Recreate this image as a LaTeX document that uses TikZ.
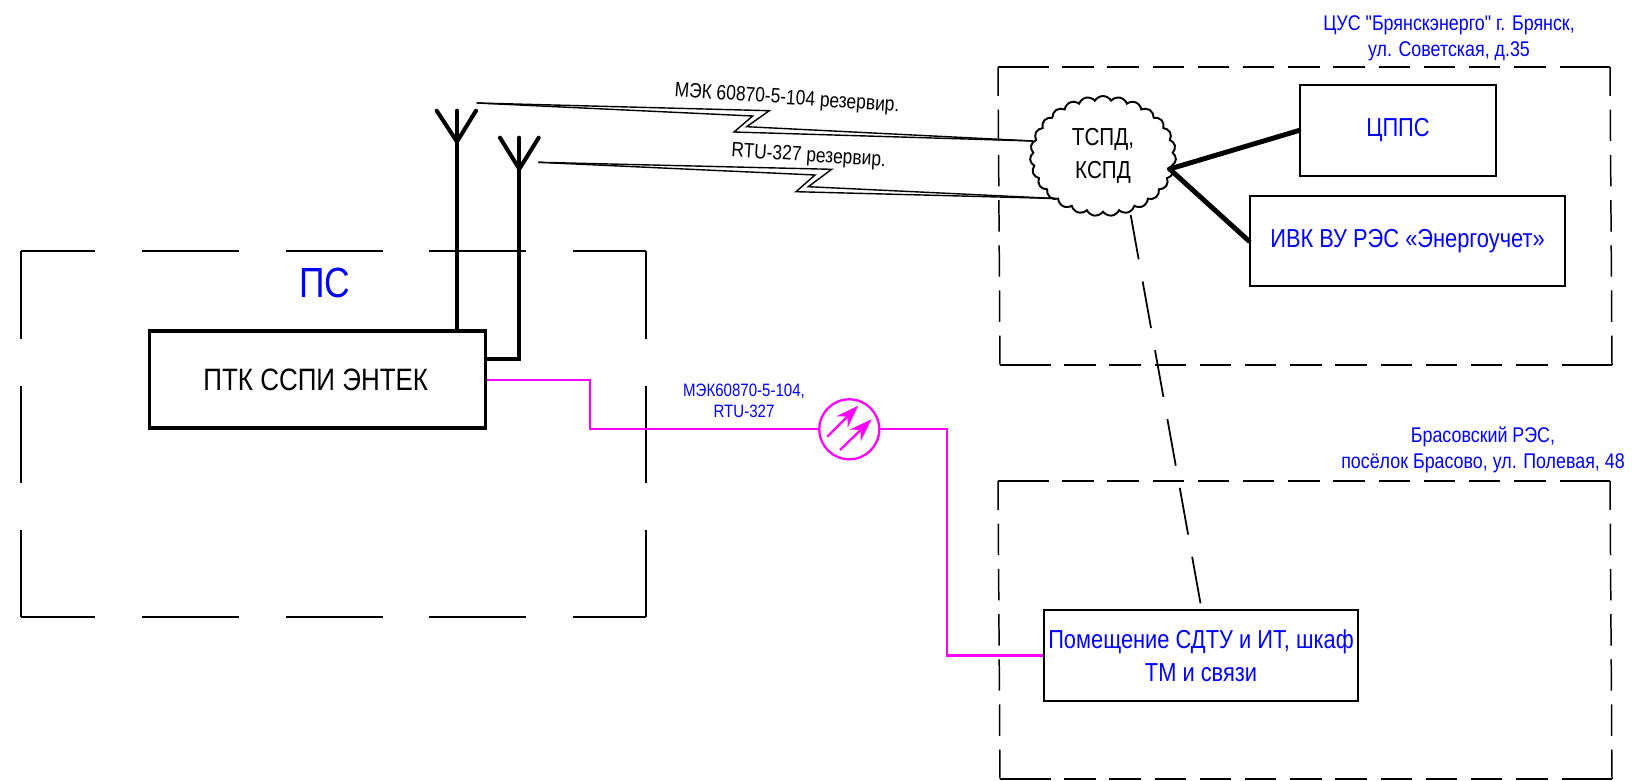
\documentclass[tikz,border=0pt]{standalone}
\usepackage{fontspec}
\setmainfont{Liberation Sans}
\usepackage{xcolor}
\usetikzlibrary{arrows.meta, positioning, shapes.symbols, calc}
\newfontfamily\narrowfont[FakeStretch=0.84]{Liberation Sans}
\definecolor{linkmagenta}{RGB}{255,0,255}
\definecolor{labelblue}{RGB}{0,0,255}
\tikzset{
  zoneline/.style={line width=0.85pt},
  zonedash/.style={zoneline,dash pattern=on 55.2pt off 26.6pt},
  finedash/.style={zoneline,dash pattern=on 17.92pt off 7.8pt},
  blockbox/.style={draw,line width=1.2pt,inner sep=0pt,align=center,font=\narrowfont\fontsize{14.8}{18.5}\selectfont,text=labelblue},
  thickline/.style={line width=2.3pt,line cap=round},
  linkline/.style={linkmagenta,line width=1.3pt},
  radioline/.style={line width=0.8pt,line join=miter},
  textlabel/.style={inner sep=0pt,align=center,font=\narrowfont\fontsize{12.1}{14.8}\selectfont,text=labelblue},
}
\begin{document}
\begin{tikzpicture}[x=0.02cm,y=-0.02cm]
  \useasboundingbox (0,0) rectangle (1634,781);

  % zones
  \draw[zonedash,dash phase=13pt] (21,251) -- (646,251);
  \draw[zonedash,dash phase=13pt] (21,617) -- (646,617);
  \draw[zonedash,dash phase=5pt] (21,251) -- (21,617);
  \draw[zonedash,dash phase=5pt] (646,251) -- (646,617);

  \draw[zoneline] (998,67) -- (1048.5,67) (1559.5,67) -- (1610,67);
  \draw[finedash] (1062.2,67) -- (1545.8,67);
  \draw[zoneline] (1000,365) -- (1050.5,365) (1561.5,365) -- (1612,365);
  \draw[finedash] (1064.2,365) -- (1547.8,365);
  \draw[finedash,dash phase=1.42pt] (998,67) -- (1000,365);
  \draw[finedash,dash phase=1.42pt] (1610,67) -- (1612,365);

  \draw[zoneline] (998,481) -- (1048.5,481) (1559.5,481) -- (1610,481);
  \draw[finedash] (1062.2,481) -- (1545.8,481);
  \draw[zoneline] (1000,779) -- (1050.5,779) (1561.5,779) -- (1612,779);
  \draw[finedash] (1064.2,779) -- (1547.8,779);
  \draw[finedash,dash phase=1.42pt] (998,481) -- (1000,779);
  \draw[finedash,dash phase=1.42pt] (1610,481) -- (1612,779);

  % blocks
  \node[blockbox,line width=2.2pt,text=black,minimum width=336*0.02cm,minimum height=97*0.02cm,font=\narrowfont\fontsize{17.6}{20}\selectfont] (ptk) at (317.5,379.5) {ПТК ССПИ ЭНТЕК\hspace{2pt}};
  \node[blockbox,minimum width=196*0.02cm,minimum height=90.5*0.02cm] (cpps) at (1398,130.5) {ЦППС};
  \node[blockbox,minimum width=315*0.02cm,minimum height=90*0.02cm] (ivk) at (1407.5,241) {ИВК ВУ РЭС «Энергоучет»};
  \node[blockbox,minimum width=314*0.02cm,minimum height=90.5*0.02cm] (room) at (1201,655.5) {Помещение СДТУ и ИТ, шкаф\\ТМ и связи};
  \node[cloud,draw,line width=1.1pt,cloud puffs=27,cloud puff arc=120,aspect=1.2,inner sep=0pt,minimum width=146*0.02cm,minimum height=120*0.02cm,align=center,font=\narrowfont\fontsize{14}{18.5}\selectfont] (tspd) at (1103,156) {ТСПД,\\КСПД};

  % antennas
  \coordinate (anta) at (457,141.7);
  \coordinate (antb) at (519.3,169);
  \draw[thickline] (anta |- ptk.north) -- (anta |- 0,110.7);
  \draw[thickline] (436.7,110.7) -- (anta) -- (476,110.7);
  \draw[thickline] (ptk.east |- 0,359) -- (antb |- 0,359) -- (antb |- 0,137.7);
  \draw[thickline] (500,137.7) -- (antb) -- (538.7,137.7);

  % radio links
  \coordinate (linka) at (476.7,103);
  \coordinate (linkb) at (538.3,162.3);
  \coordinate (cloudin) at (1033,141);
  \coordinate (cloudlow) at (1056,198.5);
  \draw[radioline] (linka) -- (769.3,110.7) -- (746.7,126.7) -- (cloudin);
  \draw[radioline] (linka) -- (752.7,116) -- (734,132) -- (cloudin);
  \draw[radioline] (linkb) -- (831.7,169.3) -- (808.3,186.7) -- (cloudlow);
  \draw[radioline] (linkb) -- (815,175) -- (796,191.7) -- (cloudlow);
  \node[textlabel,text=black,rotate=-4,font=\narrowfont\fontsize{11.8}{14}\selectfont] (labela) at (787,99) {МЭК 60870-5-104 резервир.};
  \node[textlabel,text=black,rotate=-3.5,font=\narrowfont\fontsize{11.8}{14}\selectfont] (labelb) at (808.6,156.5) {RTU-327 резервир.};

  % cloud to blocks
  \coordinate (cloudout) at (1169.6,169);
  \draw[thickline,line width=2.8pt] (cloudout) -- (cpps.west);
  \draw[thickline,line width=2.8pt] (cloudout) -- (ivk.west);
  \coordinate (cloudfoot) at (1130.7,215);
  \coordinate (roomtop) at (1201.7,610);
  \draw[line width=1pt,dash pattern=on 27pt off 12.8pt,dash phase=1.4pt] (cloudfoot) -- (roomtop);

  % fibre link
  \node[circle,draw=linkmagenta,line width=1.3pt,minimum size=60*0.02cm,inner sep=0pt] (conv) at (849.3,429.3) {};
  \draw[linkline] (ptk.east |- 0,380) -- (590,380) -- (590,429.3) -- (conv.west);
  \draw[linkline] (conv.east) -- (946.7,429.3) -- (946.7,655.5) -- (room.west);
  \draw[linkline,-{Stealth[length=13pt,width=9pt]}] (827.3,436.7) -- (858.3,405.7);
  \draw[linkline,-{Stealth[length=13pt,width=9pt]}] (840,450) -- (871.7,419.3);

  % labels
  \node[textlabel,font=\narrowfont\fontsize{24}{28}\selectfont] (pslabel) at (325,283) {ПС};
  \node[textlabel] (cuslabel) at (1449,38.5) {ЦУС "Брянскэнерго" г. Брянск,\\ул. Советская, д.35};
  \node[textlabel] (reslabel) at (1483,450) {Брасовский РЭС,\\посёлок Брасово, ул. Полевая, 48};
  \node[textlabel,font=\narrowfont\fontsize{10.2}{12}\selectfont] (convlabel) at (744,401) {МЭК60870-5-104,\\RTU-327};
\end{tikzpicture}
\end{document}
